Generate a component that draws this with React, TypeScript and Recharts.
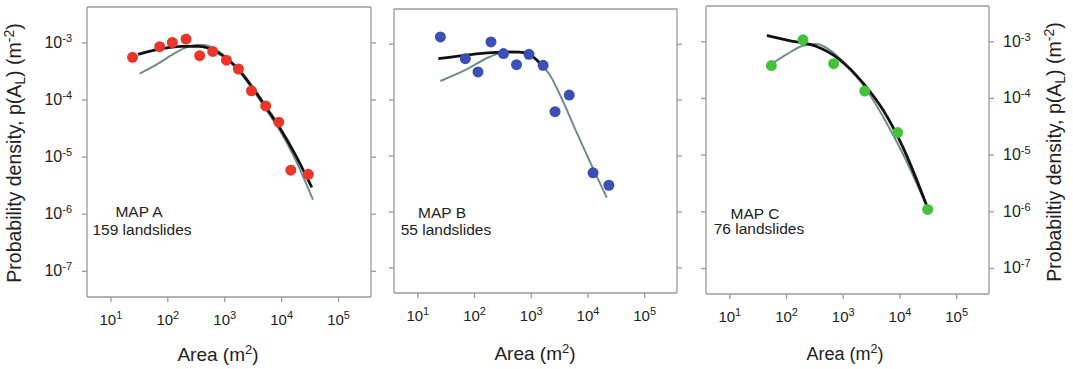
import React from 'react';
import { ComposedChart, Scatter, Line, XAxis, YAxis } from 'recharts';

type Pt = { x: number; y: number };

// axis ticks (log decades)
const xTicks = [1e1, 1e2, 1e3, 1e4, 1e5];
const yTicks = [1e-7, 1e-6, 1e-5, 1e-4, 1e-3];

// MAP A - 159 landslides
const mapAPoints: Pt[] = [
  { x: 24, y: 5.6e-4 }, { x: 72, y: 8.6e-4 }, { x: 120, y: 1.02e-3 }, { x: 209, y: 1.17e-3 },
  { x: 363, y: 6.0e-4 }, { x: 617, y: 7.1e-4 }, { x: 1070, y: 5.0e-4 }, { x: 1740, y: 3.5e-4 },
  { x: 2950, y: 1.45e-4 }, { x: 5250, y: 7.9e-5 }, { x: 8900, y: 4.1e-5 }, { x: 14500, y: 5.9e-6 },
  { x: 29500, y: 5.0e-6 },
];
const mapABlack: Pt[] = [
  { x: 30, y: 6.3e-4 }, { x: 87, y: 8.1e-4 }, { x: 170, y: 8.7e-4 }, { x: 355, y: 8.7e-4 },
  { x: 646, y: 7.4e-4 }, { x: 1122, y: 5.2e-4 }, { x: 1905, y: 3.1e-4 }, { x: 3236, y: 1.55e-4 },
  { x: 5623, y: 6.9e-5 }, { x: 9550, y: 3.1e-5 }, { x: 16600, y: 1.2e-5 }, { x: 33900, y: 2.95e-6 },
];
const mapAGray: Pt[] = [
  { x: 32, y: 2.9e-4 }, { x: 66, y: 4.3e-4 }, { x: 129, y: 6.5e-4 }, { x: 251, y: 8.9e-4 },
  { x: 380, y: 9.3e-4 }, { x: 562, y: 8.7e-4 }, { x: 977, y: 6.0e-4 }, { x: 1778, y: 3.2e-4 },
  { x: 3236, y: 1.45e-4 }, { x: 5623, y: 6.3e-5 }, { x: 9550, y: 2.8e-5 }, { x: 16600, y: 1.0e-5 },
  { x: 35500, y: 1.8e-6 },
];

// MAP B - 55 landslides
const mapBPoints: Pt[] = [
  { x: 25, y: 1.35e-3 }, { x: 69, y: 5.5e-4 }, { x: 115, y: 3.2e-4 }, { x: 195, y: 1.1e-3 },
  { x: 324, y: 6.8e-4 }, { x: 550, y: 4.3e-4 }, { x: 912, y: 6.6e-4 }, { x: 1620, y: 4.2e-4 },
  { x: 2630, y: 6.2e-5 }, { x: 4680, y: 1.23e-4 }, { x: 12300, y: 5.0e-6 }, { x: 23400, y: 3.0e-6 },
];
const mapBBlack: Pt[] = [
  { x: 23, y: 5.5e-4 }, { x: 93, y: 6.6e-4 }, { x: 316, y: 7.2e-4 }, { x: 617, y: 7.2e-4 },
  { x: 912, y: 6.6e-4 }, { x: 1380, y: 4.7e-4 }, { x: 1740, y: 3.5e-4 },
];
const mapBGray: Pt[] = [
  { x: 25, y: 2.2e-4 }, { x: 71, y: 3.5e-4 }, { x: 182, y: 5.9e-4 }, { x: 380, y: 7.4e-4 },
  { x: 708, y: 7.2e-4 }, { x: 1200, y: 5.4e-4 }, { x: 2090, y: 2.9e-4 }, { x: 3630, y: 9.5e-5 },
  { x: 6170, y: 2.8e-5 }, { x: 10700, y: 8.1e-6 }, { x: 21400, y: 1.8e-6 },
];

// MAP C - 76 landslides
const mapCPoints: Pt[] = [
  { x: 54, y: 3.8e-4 }, { x: 195, y: 1.08e-3 }, { x: 676, y: 4.1e-4 }, { x: 2400, y: 1.35e-4 },
  { x: 9120, y: 2.5e-5 }, { x: 30900, y: 1.1e-6 },
];
const mapCBlack: Pt[] = [
  { x: 45, y: 1.29e-3 }, { x: 112, y: 1.05e-3 }, { x: 331, y: 8.3e-4 }, { x: 851, y: 4.9e-4 },
  { x: 2240, y: 1.86e-4 }, { x: 5010, y: 6.3e-5 }, { x: 11200, y: 1.4e-5 }, { x: 30900, y: 1.15e-6 },
];
const mapCGray: Pt[] = [
  { x: 50, y: 3.8e-4 }, { x: 98, y: 5.9e-4 }, { x: 195, y: 8.5e-4 }, { x: 331, y: 9.1e-4 },
  { x: 575, y: 7.2e-4 }, { x: 1120, y: 3.9e-4 }, { x: 2240, y: 1.74e-4 }, { x: 5010, y: 4.8e-5 },
  { x: 11200, y: 1.07e-5 }, { x: 30900, y: 1.15e-6 },
];

const X_DOMAIN = [Math.pow(10, 0.58), Math.pow(10, 5.57)];
const Y_DOMAIN = [Math.pow(10, -7.45), Math.pow(10, -2.37)];
const FONT = '"Liberation Sans", Arial, sans-serif';
const BOX = '#9a9a9a';
const INK = '#222';
const GRAY = '#6e8c8a';

const exp = (v: number) => Math.round(Math.log10(v));

const XTick = ({ x, y, payload }: any) => (
  <text x={x} y={y + 21} textAnchor="middle" fontSize={15} fill={INK} fontFamily={FONT}>
    10<tspan dy={-6} fontSize={11}>{exp(payload.value)}</tspan>
  </text>
);

const YTick = ({ x, y, payload, anchor }: any) => (
  <text x={x} y={y + 5} textAnchor={anchor} fontSize={16} fill={INK} fontFamily={FONT}>
    10<tspan dy={-6} fontSize={11}>{'-' + Math.abs(exp(payload.value))}</tspan>
  </text>
);

const NoTick = () => <g />;

interface PanelProps {
  left: number;
  top: number;
  w: number;
  h: number;
  points: Pt[];
  black: Pt[];
  gray: Pt[];
  color: string;
  labels: 'left' | 'right' | 'none';
}

function Panel({ left, top, w, h, points, black, gray, color, labels }: PanelProps) {
  const common = { type: 'number' as const, scale: 'log' as const, allowDataOverflow: true, interval: 0 as const, tickSize: 5, stroke: BOX, strokeWidth: 1.3 };
  return (
    <div style={{ position: 'absolute', left: left - 80, top: top - 10 }}>
      <ComposedChart width={w + 160} height={h + 80} margin={{ top: 0, right: 0, bottom: 0, left: 0 }}>
        <XAxis xAxisId="b" dataKey="x" {...common} domain={X_DOMAIN} ticks={xTicks} height={70}
          tick={(p: any) => <XTick {...p} />} />
        <XAxis xAxisId="t" orientation="top" {...common} domain={X_DOMAIN} ticks={xTicks} height={10} tick={NoTick} />
        <YAxis yAxisId="l" dataKey="y" {...common} domain={Y_DOMAIN} ticks={yTicks} width={80} tickMargin={10}
          tick={labels === 'left' ? (p: any) => <YTick {...p} anchor="end" /> : NoTick} />
        <YAxis yAxisId="r" orientation="right" {...common} domain={Y_DOMAIN} ticks={yTicks} width={80} tickMargin={9}
          tick={labels === 'right' ? (p: any) => <YTick {...p} anchor="start" /> : NoTick} />
        <Scatter xAxisId="b" yAxisId="l" data={points} fill={color} isAnimationActive={false}
          shape={(p: any) => <circle cx={p.cx} cy={p.cy} r={5.5} fill={color} />} />
        <Line xAxisId="b" yAxisId="l" data={gray} dataKey="y" type="monotone" stroke={GRAY}
          strokeWidth={2} dot={false} activeDot={false} isAnimationActive={false} />
        <Line xAxisId="b" yAxisId="l" data={black} dataKey="y" type="monotone" stroke="#111"
          strokeWidth={2.8} dot={false} activeDot={false} isAnimationActive={false} />
      </ComposedChart>
    </div>
  );
}

export default function App() {
  return (
    <div style={{ position: 'absolute', left: 0, top: 0, width: 1073, height: 369, background: '#fff', fontFamily: FONT }}>
      <Panel left={87} top={7} w={284} h={290} points={mapAPoints} black={mapABlack} gray={mapAGray} color="#e8372a" labels="left" />
      <Panel left={394} top={9} w={283} h={284} points={mapBPoints} black={mapBBlack} gray={mapBGray} color="#3b4fb4" labels="none" />
      <Panel left={706} top={6} w={283} h={288} points={mapCPoints} black={mapCBlack} gray={mapCGray} color="#45c13b" labels="right" />
      <svg width={1073} height={369} style={{ position: 'absolute', left: 0, top: 0, pointerEvents: 'none' }} fontFamily={FONT} fill={INK}>
        <text transform="translate(21,153) rotate(-90)" textAnchor="middle" fontSize={19.5}>
          Probability density, p(A<tspan dy={4} fontSize={14}>L</tspan><tspan dy={-4}>) (m</tspan>
          <tspan dy={-7} fontSize={14}>-2</tspan><tspan dy={7}>)</tspan>
        </text>
        <text transform="translate(1061,152) rotate(-90)" textAnchor="middle" fontSize={19.5}>
          Probabiltiy density, p(A<tspan dy={4} fontSize={14}>L</tspan><tspan dy={-4}>) (m</tspan>
          <tspan dy={-7} fontSize={14}>-2</tspan><tspan dy={7}>)</tspan>
        </text>
        <text x={218} y={361} textAnchor="middle" fontSize={19}>
          Area (m<tspan dy={-7} fontSize={13}>2</tspan><tspan dy={7}>)</tspan>
        </text>
        <text x={535} y={360} textAnchor="middle" fontSize={19}>
          Area (m<tspan dy={-7} fontSize={13}>2</tspan><tspan dy={7}>)</tspan>
        </text>
        <text x={845} y={360} textAnchor="middle" fontSize={18}>
          Area (m<tspan dy={-7} fontSize={12.5}>2</tspan><tspan dy={7}>)</tspan>
        </text>
        <g fontSize={15.5}>
          <text x={139} y={217} textAnchor="middle">MAP A</text>
          <text x={142} y={235} textAnchor="middle">159 landslides</text>
          <text x={442} y={218} textAnchor="middle">MAP B</text>
          <text x={446} y={235} textAnchor="middle">55 landslides</text>
          <text x={755} y={219} textAnchor="middle">MAP C</text>
          <text x={759} y={234} textAnchor="middle">76 landslides</text>
        </g>
      </svg>
    </div>
  );
}
